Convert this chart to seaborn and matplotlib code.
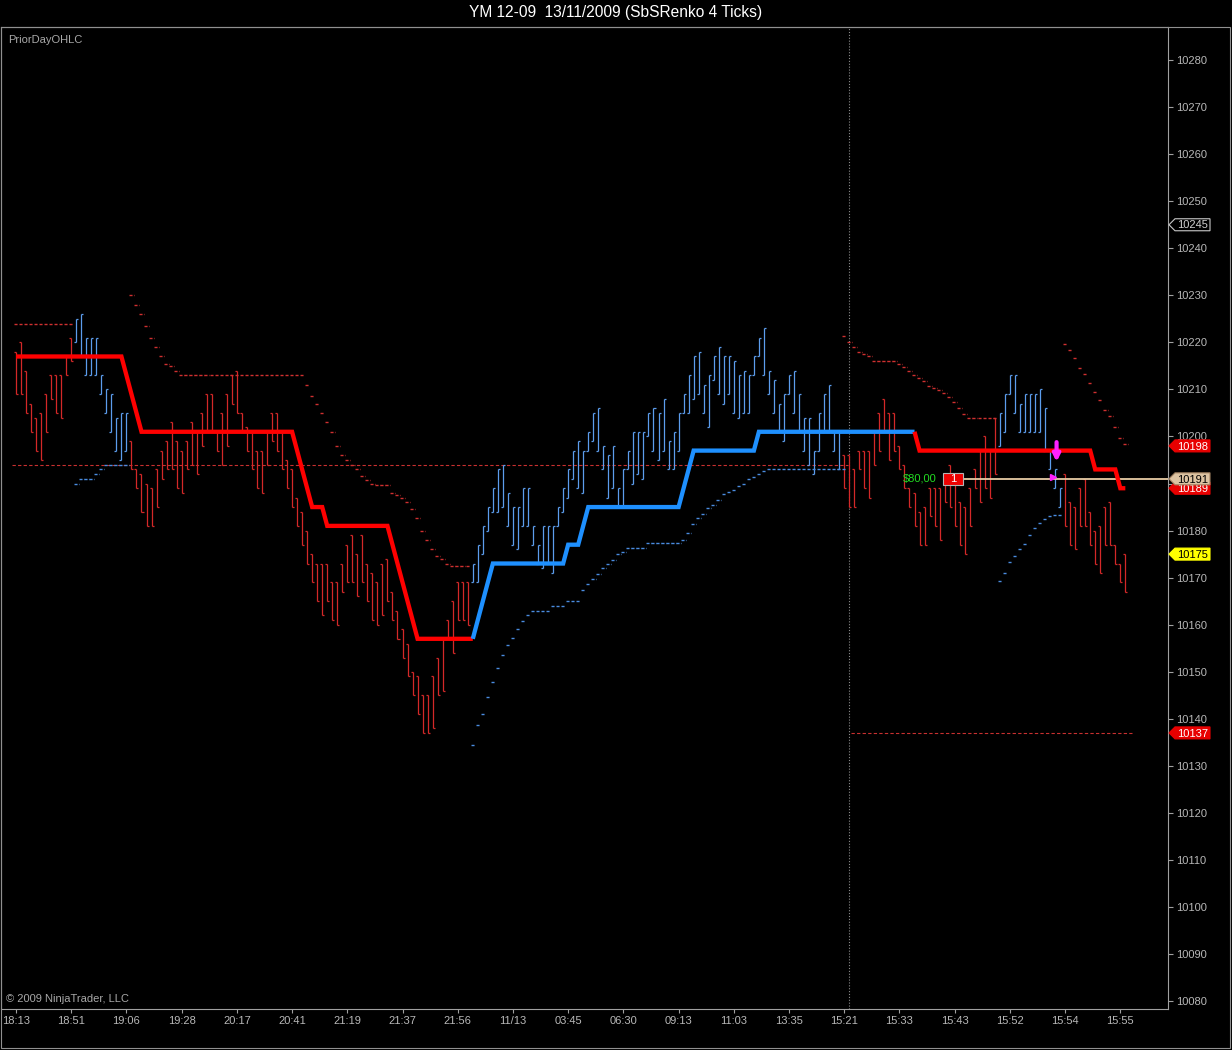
import matplotlib
matplotlib.use("Agg")
import numpy as np
import pandas as pd
import matplotlib.pyplot as plt
import matplotlib.transforms as mtransforms
from matplotlib.patches import Polygon, Rectangle
import seaborn as sns

# ====== DATA ======
TITLE = "YM 12-09  13/11/2009 (SbSRenko 4 Ticks)"

BAR_HIGH = [
    10218, 10220, 10214, 10207, 10204, 10205, 10209, 10213, 10213, 10213,
    10217, 10221, 10225, 10226, 10221, 10221, 10221, 10213, 10210, 10209,
    10204, 10205, 10205, 10199, 10193, 10192, 10190, 10189, 10193, 10197,
    10199, 10203, 10199, 10197, 10199, 10203, 10201, 10205, 10209, 10209,
    10201, 10205, 10209, 10213, 10214, 10205, 10202, 10201, 10197, 10197,
    10201, 10205, 10205, 10201, 10195, 10193, 10187, 10184, 10180, 10175,
    10173, 10173, 10173, 10169, 10169, 10173, 10177, 10179, 10175, 10179,
    10173, 10171, 10169, 10173, 10174, 10167, 10163, 10159, 10156, 10150,
    10149, 10145, 10145, 10149, 10153, 10157, 10161, 10165, 10169, 10169,
    10169, 10173, 10177, 10181, 10185, 10189, 10193, 10194, 10188, 10185,
    10185, 10189, 10189, 10181, 10177, 10181, 10181, 10181, 10185, 10189,
    10193, 10197, 10199, 10197, 10201, 10205, 10206, 10198, 10196, 10198,
    10189, 10193, 10197, 10201, 10201, 10201, 10205, 10206, 10205, 10208,
    10199, 10201, 10205, 10209, 10213, 10217, 10218, 10211, 10213, 10217,
    10219, 10217, 10217, 10216, 10213, 10214, 10213, 10217, 10221, 10223,
    10214, 10212, 10207, 10209, 10213, 10214, 10209, 10204, 10204, 10197,
    10205, 10209, 10211, 10201, 10201, 10196, 10196, 10193, 10197, 10197,
    10197, 10201, 10205, 10208, 10205, 10205, 10198, 10194, 10189, 10188,
    10184, 10185, 10189, 10189, 10189, 10192, 10194, 10190, 10186, 10185,
    10189, 10193, 10197, 10200, 10197, 10204, 10205, 10209, 10213, 10213,
    10207, 10209, 10209, 10209, 10210, 10206, 10197, 10193, 10189, 10192,
    10186, 10185, 10189, 10191, 10184, 10180, 10181, 10185, 10186, 10177,
    10173, 10175,
]

BAR_LOW = [
    10209, 10209, 10205, 10201, 10197, 10195, 10201, 10208, 10205, 10204,
    10213, 10216, 10220, 10217, 10213, 10213, 10213, 10209, 10205, 10201,
    10197, 10195, 10197, 10193, 10189, 10184, 10181, 10181, 10185, 10191,
    10193, 10193, 10189, 10188, 10193, 10194, 10192, 10198, 10201, 10201,
    10197, 10194, 10198, 10207, 10205, 10201, 10197, 10193, 10189, 10188,
    10194, 10199, 10197, 10193, 10189, 10185, 10181, 10177, 10173, 10169,
    10165, 10162, 10165, 10161, 10160, 10167, 10169, 10169, 10166, 10169,
    10165, 10161, 10160, 10162, 10165, 10161, 10157, 10153, 10149, 10145,
    10141, 10137, 10137, 10138, 10145, 10146, 10157, 10154, 10161, 10161,
    10160, 10169, 10169, 10175, 10180, 10184, 10184, 10185, 10181, 10177,
    10176, 10181, 10181, 10177, 10173, 10172, 10173, 10171, 10181, 10184,
    10187, 10191, 10189, 10188, 10197, 10199, 10197, 10193, 10187, 10189,
    10185, 10185, 10193, 10190, 10192, 10191, 10200, 10197, 10195, 10197,
    10193, 10193, 10197, 10205, 10205, 10208, 10209, 10205, 10202, 10212,
    10209, 10207, 10209, 10205, 10204, 10205, 10205, 10213, 10217, 10213,
    10209, 10205, 10201, 10199, 10209, 10205, 10201, 10197, 10194, 10192,
    10197, 10201, 10201, 10197, 10193, 10189, 10185, 10185, 10193, 10189,
    10187, 10194, 10197, 10201, 10195, 10197, 10193, 10189, 10185, 10181,
    10177, 10177, 10183, 10181, 10178, 10186, 10185, 10181, 10177, 10175,
    10181, 10189, 10186, 10189, 10187, 10192, 10198, 10201, 10209, 10205,
    10201, 10201, 10201, 10201, 10201, 10197, 10193, 10189, 10185, 10181,
    10177, 10176, 10181, 10181, 10177, 10173, 10171, 10177, 10177, 10173,
    10169, 10167,
]

# 'd' = red bar, 'u' = blue bar
BAR_SIDE = "d" * 12 + "u" * 11 + "d" * 68 + "u" * 74 + "d" * 31 + "u" * 13 + "d" * 13

# thick trend line, one value per bar
TREND = ([10217] * 22 + [10213, 10209, 10205] + [10201] * 31 + [10197, 10193, 10189]
         + [10185] * 3 + [10181] * 13 + [10177, 10173, 10169, 10165, 10161]
         + [10157] * 12 + [10161, 10165, 10169] + [10173] * 15 + [10177] * 3
         + [10181] + [10185] * 19 + [10189, 10193] + [10197] * 13 + [10201] * 32
         + [10197] * 35 + [10193] * 5 + [10189] * 2)
TREND_SIDE = "d" * 92 + "u" * 88 + "d" * 42

# trailing stop dashes: (first bar, side, values)
STOPS = [
    (0, "d", [10224] * 12),
    (12, "u", [10190, 10191, 10191, 10191, 10192, 10193, 10194, 10194, 10194, 10194, 10194]),
    (23, "d", [10230, 10228, 10226, 10223.5, 10221, 10219, 10217, 10215.5, 10215, 10214]
     + [10213] * 25
     + [10211, 10208.5, 10207, 10205, 10203, 10201, 10198, 10196, 10195, 10194, 10193,
        10191.5, 10190.7, 10190, 10189.6, 10189.6, 10189.6, 10188, 10187.5, 10187, 10186,
        10184.5, 10182.6, 10180, 10178, 10176, 10174.7, 10174, 10173,
        10172.5, 10172.5, 10172.5, 10172.5]),
    (91, "u", [10134.5, 10138.6, 10141, 10144.6, 10147.8, 10150.8, 10153.6, 10155.7,
               10157.2, 10159, 10160.8, 10162]
     + [10163] * 4 + [10164] * 3 + [10165] * 3
     + [10167.4, 10168.7, 10169.8, 10170.8, 10172, 10173, 10173.8, 10175, 10175.5]
     + [10176.4] * 4 + [10177.4] * 7
     + [10178, 10179.4, 10181.3, 10182.6, 10183.6, 10184.7, 10185.5, 10186.6, 10187.7,
        10188.3, 10188.7, 10189.4, 10190, 10191, 10191.3, 10192, 10192.6]
     + [10193] * 16),
    (165, "d", [10221.4, 10220, 10219, 10218, 10217.5, 10217] + [10216] * 5
     + [10215.5, 10214.8, 10214, 10213, 10212.5, 10211.8, 10210.7, 10210.3, 10209.8,
        10209.2, 10208.4, 10207.3, 10206, 10204.7, 10204] + [10203.9] * 5),
    (196, "u", [10169.3, 10171, 10173.4, 10174.7, 10176, 10177.2, 10179, 10180.6,
                10181.7, 10182.5, 10183.2, 10183.4, 10183.4]),
    (209, "d", [10219.6, 10218.4, 10216.7, 10214.6, 10213.3, 10211.4, 10209.4, 10207.7,
                10205.6, 10204.3, 10202, 10199.6, 10198.3]),
]

# PriorDayOHLC lines: (price, from bar, to bar)
PRIOR_LINES = [(10194, -0.7, 165.8), (10137, 166.4, 222.3)]

TIME_LABELS = ["18:13", "18:51", "19:06", "19:28", "20:17", "20:41", "21:19", "21:37",
               "21:56", "11/13", "03:45", "06:30", "09:13", "11:03", "13:35", "15:21",
               "15:33", "15:43", "15:52", "15:54", "15:55"]
TIME_TICK_BARS = list(range(0, 221, 11))

PRICE_TICKS = list(range(10080, 10281, 10))

# right axis tags: (price, text, fill, edge, text colour), drawn in this order
PRICE_TAGS = [
    (10245, "10245", "#000000", "#c8c8c8", "#d0d0d0"),
    (10198, "10198", "#e80000", "#e80000", "#ffffff"),
    (10189, "10189", "#e80000", "#e80000", "#ffffff"),
    (10191, "10191", "#dcc3a2", "#a08060", "#000000"),
    (10175, "10175", "#ffff00", "#ffff00", "#000000"),
    (10137, "10137", "#e80000", "#e80000", "#ffffff"),
]

POSITION_PRICE = 10191
POSITION_PNL = "$80,00"
POSITION_QTY = "1"
SESSION_BREAK_BAR = 165.9
ENTRY_BAR = 206.5
ARROW_BAR = 207.3
# ====================

FIG_W, FIG_H = 1232, 1050
AX_L, AX_R, AX_T, AX_B = 1, 1168, 27, 1009
XLIM = (-2.99, 229.5)
YLIM = (10078.32, 10287.03)

RED_BAR, BLUE_BAR = "#d42828", "#5c9ded"
RED_TREND, BLUE_TREND = "#ff0000", "#1e90ff"
RED_STOP, BLUE_STOP = "#d03030", "#4a8ce0"
GREY = "#a8a8a8"

sns.set_theme(style="dark", rc={"axes.facecolor": "black", "figure.facecolor": "black"})
plt.rcParams["font.family"] = ["Liberation Sans", "DejaVu Sans"]

assert len(BAR_HIGH) == len(BAR_LOW) == len(BAR_SIDE) == len(TREND) == len(TREND_SIDE)

bars = pd.DataFrame({"bar": np.arange(len(BAR_HIGH)), "high": BAR_HIGH, "low": BAR_LOW,
                     "side": list(BAR_SIDE)})
bars["color"] = bars["side"].map({"d": RED_BAR, "u": BLUE_BAR})
bars["open"] = np.where(bars["side"] == "d", bars["high"], bars["low"])
bars["close"] = np.where(bars["side"] == "d", bars["low"], bars["high"])

fig = plt.figure(figsize=(FIG_W / 100, FIG_H / 100), dpi=100, facecolor="black")
ax = fig.add_axes([AX_L / FIG_W, (FIG_H - AX_B) / FIG_H,
                   (AX_R - AX_L) / FIG_W, (AX_B - AX_T) / FIG_H])
ax.set_facecolor("black")
ax.grid(False)
ax.set_xlim(*XLIM)
ax.set_ylim(*YLIM)

# ---- prior day lines ----
for price, x0, x1 in PRIOR_LINES:
    ax.hlines(price, x0, x1, colors="#c83030", lw=0.8, linestyles=(0, (3, 2)), zorder=1)

# ---- session break ----
ax.axvline(SESSION_BREAK_BAR, color="#8c8c8c", lw=0.8, ls=(0, (1, 1.6)), zorder=1)

# ---- renko bars ----
ax.vlines(bars["bar"], bars["low"], bars["high"], colors=bars["color"], lw=0.9, zorder=2)
ax.hlines(bars["open"], bars["bar"] - 0.4, bars["bar"], colors=bars["color"], lw=0.9, zorder=2)
ax.hlines(bars["close"], bars["bar"], bars["bar"] + 0.4, colors=bars["color"], lw=0.9, zorder=2)

# ---- trailing stop dashes ----
for start, side, vals in STOPS:
    xs = np.arange(start, start + len(vals))
    ax.hlines(vals, xs - 0.45, xs + 0.45, colors=RED_STOP if side == "d" else BLUE_STOP,
              lw=1.0, linestyles=(0, (2.2, 1.0)), zorder=2)

# ---- thick trend line, split by colour ----
runs = []
for i in range(1, len(TREND)):
    if runs and runs[-1][0] == TREND_SIDE[i]:
        runs[-1][1].append(i)
    else:
        runs.append((TREND_SIDE[i], [i - 1, i]))
for side, idx in runs:
    sns.lineplot(x=idx, y=[TREND[i] for i in idx], ax=ax, estimator=None, sort=False,
                 color=RED_TREND if side == "d" else BLUE_TREND, lw=3.1, zorder=4,
                 solid_joinstyle="miter", solid_capstyle="butt")

# ---- position line and labels ----
ax.hlines(POSITION_PRICE, 188.6, XLIM[1], colors="#e8cca6", lw=1.3, zorder=3)
ax.text(183.3, POSITION_PRICE + 0.1, POSITION_PNL, color="#22dd22", ha="right", va="center",
        fontsize=8, zorder=6)
ax.add_patch(Rectangle((184.7, 10189.6), 3.9, 2.6, fc="#ee0000", ec="#b4b4b4", lw=0.8, zorder=5))
ax.text(186.65, 10190.9, POSITION_QTY, color="white", ha="center", va="center", fontsize=8,
        zorder=6)

# ---- entry markers ----
ax.annotate("", xy=(ARROW_BAR, 10194.6), xytext=(ARROW_BAR, 10198.8),
            arrowprops=dict(arrowstyle="-|>", color="#ff20ff", lw=3.0, mutation_scale=10,
                            shrinkA=0, shrinkB=0), zorder=6)
ax.plot([ENTRY_BAR], [POSITION_PRICE + 0.3], marker=">", color="#ff20ff", ms=4.5, zorder=6)

# ---- axes styling ----
for name, spine in ax.spines.items():
    spine.set_color("#a0a0a0")
    spine.set_linewidth(0.8)
    spine.set_visible(True)

ax.yaxis.tick_right()
ax.set_yticks(PRICE_TICKS)
ax.set_yticklabels([str(p) for p in PRICE_TICKS])
ax.set_xticks(TIME_TICK_BARS)
ax.set_xticklabels(TIME_LABELS)
ax.tick_params(axis="y", which="both", right=True, left=False, direction="out", length=3.6,
               width=0.8, pad=2.2, colors="#a0a0a0", labelcolor="#b8b8b8", labelsize=8)
ax.tick_params(axis="x", which="both", bottom=True, direction="out", length=3.2, width=0.8,
               pad=1.5, colors="#a0a0a0", labelcolor="#b8b8b8", labelsize=8)
ax.set_xlabel("")
ax.set_ylabel("")

# ---- price tags on the right axis (later tags sit on top of earlier ones) ----
trans = mtransforms.blended_transform_factory(ax.transAxes, ax.transData)
px = 1.0 / (AX_R - AX_L)
py = (YLIM[1] - YLIM[0]) / (AX_B - AX_T)
for k, (price, label, fill, edge, tcol) in enumerate(PRICE_TAGS):
    pts = [(1 + 1 * px, price), (1 + 7 * px, price + 6 * py), (1 + 42 * px, price + 6 * py),
           (1 + 42 * px, price - 6 * py), (1 + 7 * px, price - 6 * py)]
    tag = Polygon(pts, closed=True, fc=fill, ec=edge, lw=0.8, transform=trans,
                  clip_on=False, zorder=7 + 2 * k)
    ax.add_patch(tag)
    txt = ax.text(1 + 25 * px, price - 0.15, label, transform=trans, ha="center",
                  va="center", fontsize=8, color=tcol, zorder=8 + 2 * k)
    txt.set_clip_path(tag)

# ---- figure texts and outer frame ----
fig.text(616 / FIG_W, 1 - 13 / FIG_H, TITLE, color="white", ha="center", va="center",
         fontsize=11.2)
fig.text(8 / FIG_W, 1 - 40 / FIG_H, "PriorDayOHLC", color=GREY, ha="left", va="center",
         fontsize=8)
fig.text(6 / FIG_W, 1 - 999 / FIG_H, "\u00a9 2009 NinjaTrader, LLC", color=GREY, ha="left",
         va="center", fontsize=8)
fig.add_artist(Rectangle((1 / FIG_W, 2 / FIG_H), 1229 / FIG_W, 1021 / FIG_H, fill=False,
                         ec="#909090", lw=0.8, transform=fig.transFigure))

fig.savefig("out.png", dpi=100, facecolor="black")
plt.close(fig)
